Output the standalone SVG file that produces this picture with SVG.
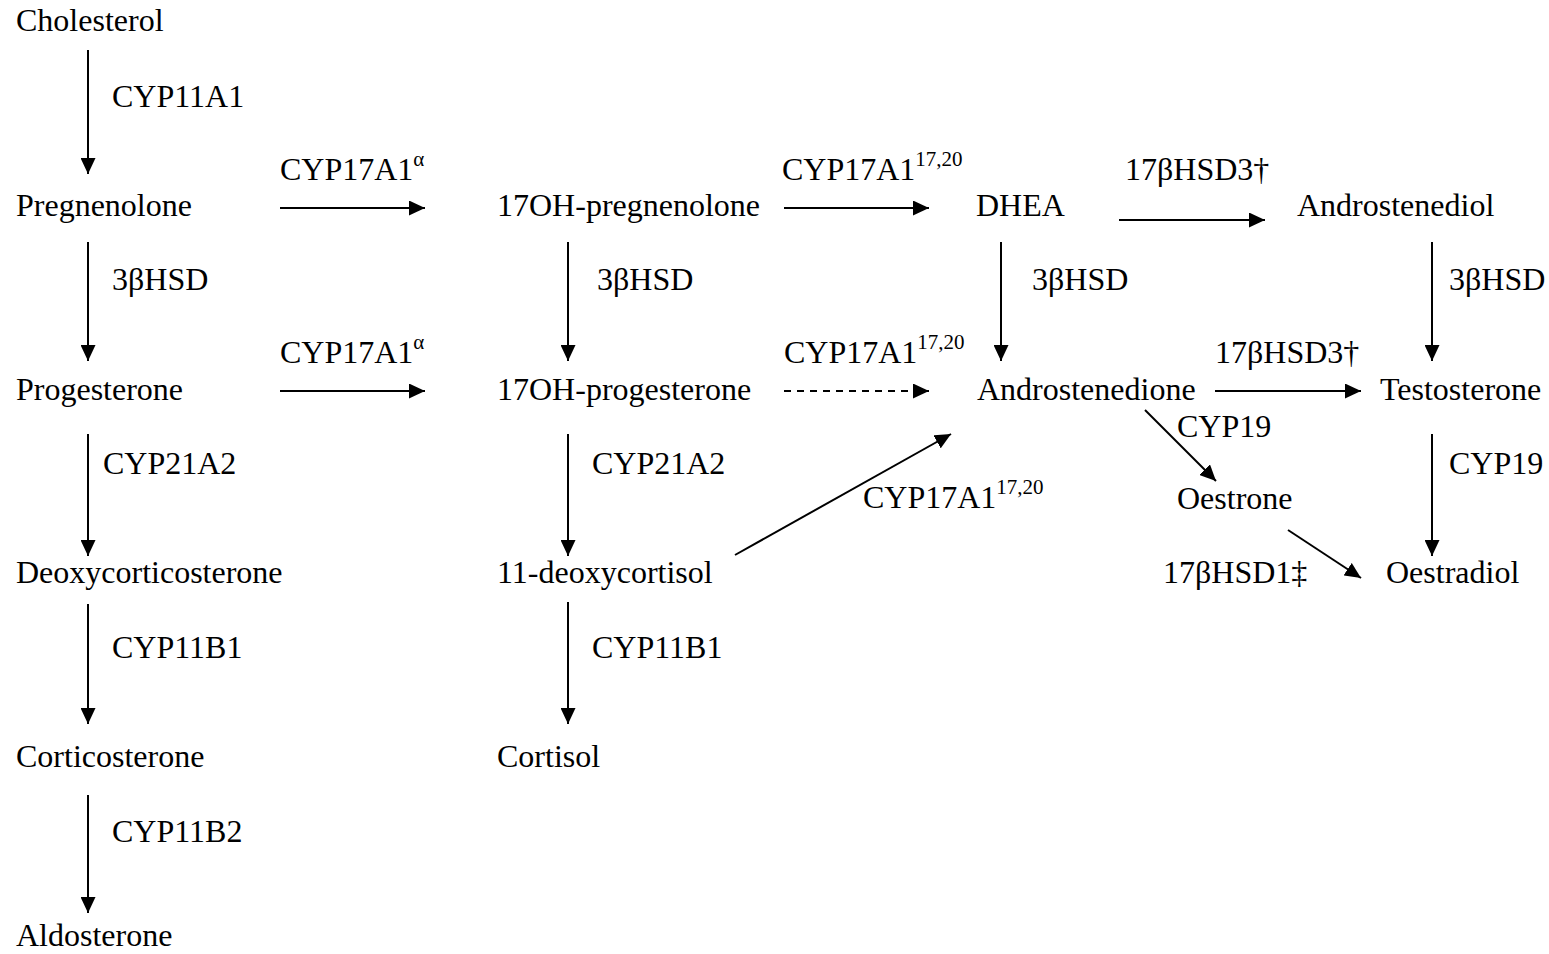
<svg xmlns="http://www.w3.org/2000/svg" width="1549" height="954" viewBox="0 0 1549 954">
  <style>
    text { font-family: "Liberation Serif", "Times New Roman", serif; font-size: 32px; fill: #000; }
    .sup { font-size: 21px; }
    .edge { stroke: #000; stroke-width: 2; fill: none; marker-end: url(#head); }
    .dash { stroke-dasharray: 7 6; }
  </style>
  <defs>
    <marker id="head" viewBox="0 0 16 15" refX="16" refY="7.5" markerWidth="16" markerHeight="15" markerUnits="userSpaceOnUse" orient="auto">
      <path d="M0,0 L16,7.5 L0,15 Z" fill="#000"/>
    </marker>
  </defs>
  <rect width="1549" height="954" fill="#fff"/>

  <!-- metabolites -->
  <g id="cholesterol"><text x="16" y="31">Cholesterol</text></g>
  <g id="pregnenolone"><text x="16" y="216">Pregnenolone</text></g>
  <g id="progesterone"><text x="16" y="400">Progesterone</text></g>
  <g id="deoxycorticosterone"><text x="16" y="583">Deoxycorticosterone</text></g>
  <g id="corticosterone"><text x="16" y="767">Corticosterone</text></g>
  <g id="aldosterone"><text x="16" y="946">Aldosterone</text></g>
  <g id="oh-pregnenolone"><text x="497" y="216">17OH-pregnenolone</text></g>
  <g id="oh-progesterone"><text x="497" y="400">17OH-progesterone</text></g>
  <g id="deoxycortisol"><text x="497" y="583">11-deoxycortisol</text></g>
  <g id="cortisol"><text x="497" y="767">Cortisol</text></g>
  <g id="dhea"><text x="976" y="216">DHEA</text></g>
  <g id="androstenedione"><text x="977" y="400">Androstenedione</text></g>
  <g id="androstenediol"><text x="1297" y="216">Androstenediol</text></g>
  <g id="testosterone"><text x="1380" y="400">Testosterone</text></g>
  <g id="oestrone"><text x="1177" y="509">Oestrone</text></g>
  <g id="oestradiol"><text x="1386" y="583">Oestradiol</text></g>

  <!-- reactions -->
  <g id="connectors">
    <line class="edge" x1="88" y1="50" x2="88" y2="174"/>
    <line class="edge" x1="88" y1="242" x2="88" y2="361"/>
    <line class="edge" x1="88" y1="434" x2="88" y2="556"/>
    <line class="edge" x1="88" y1="604" x2="88" y2="724"/>
    <line class="edge" x1="88" y1="795" x2="88" y2="913"/>
    <line class="edge" x1="568" y1="242" x2="568" y2="361"/>
    <line class="edge" x1="568" y1="434" x2="568" y2="556"/>
    <line class="edge" x1="568" y1="602" x2="568" y2="724"/>
    <line class="edge" x1="1001" y1="242" x2="1001" y2="361"/>
    <line class="edge" x1="1432" y1="242" x2="1432" y2="361"/>
    <line class="edge" x1="1432" y1="434" x2="1432" y2="556"/>
    <line class="edge" x1="280" y1="208" x2="425" y2="208"/>
    <line class="edge" x1="280" y1="391" x2="425" y2="391"/>
    <line class="edge" x1="784" y1="208" x2="929" y2="208"/>
    <line class="edge dash" x1="784" y1="391" x2="929" y2="391"/>
    <line class="edge" x1="1119" y1="220" x2="1265" y2="220"/>
    <line class="edge" x1="1215" y1="391" x2="1361" y2="391"/>
    <line class="edge" x1="735" y1="555" x2="951" y2="434"/>
    <line class="edge" x1="1145" y1="410" x2="1216" y2="481"/>
    <line class="edge" x1="1288" y1="530" x2="1361" y2="578"/>
  </g>

  <!-- enzyme labels -->
  <g id="enzymes">
    <text x="112" y="107">CYP11A1</text>
    <text x="112" y="290">3βHSD</text>
    <text x="103" y="474">CYP21A2</text>
    <text x="112" y="658">CYP11B1</text>
    <text x="112" y="842">CYP11B2</text>
    <text x="597" y="290">3βHSD</text>
    <text x="592" y="474">CYP21A2</text>
    <text x="592" y="658">CYP11B1</text>
    <text x="1032" y="290">3βHSD</text>
    <text x="1449" y="290">3βHSD</text>
    <text x="1449" y="474">CYP19</text>
    <text x="280" y="180">CYP17A1<tspan class="sup" dy="-14">α</tspan></text>
    <text x="280" y="363">CYP17A1<tspan class="sup" dy="-14">α</tspan></text>
    <text x="782" y="180">CYP17A1<tspan class="sup" dy="-14">17,20</tspan></text>
    <text x="784" y="363">CYP17A1<tspan class="sup" dy="-14">17,20</tspan></text>
    <text x="863" y="508">CYP17A1<tspan class="sup" dy="-14">17,20</tspan></text>
    <text x="1125" y="180">17βHSD3†</text>
    <text x="1215" y="363">17βHSD3†</text>
    <text x="1177" y="437">CYP19</text>
    <text x="1163" y="583">17βHSD1‡</text>
  </g>
</svg>
